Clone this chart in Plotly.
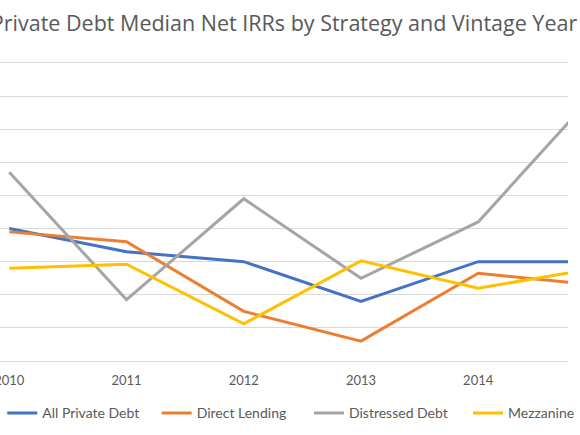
import plotly.graph_objects as go

years = [2010, 2011, 2012, 2013, 2014, 2015]
all_private_debt = [8.0, 6.6, 6.0, 3.6, 6.0, 6.0]
direct_lending = [7.8, 7.2, 3.0, 1.2, 5.3, 4.6]
distressed_debt = [11.4, 3.7, 9.8, 5.0, 8.4, 16.2]
mezzanine = [5.6, 5.85, 2.25, 6.05, 4.4, 5.6]
tick_years = [2010, 2011, 2012, 2013, 2014, 2015]
series_names = ["All Private Debt", "Direct Lending", "Distressed Debt", "Mezzanine"]

colors = ["#4472C4", "#ED7D31", "#A5A5A5", "#FFC000"]
values = [all_private_debt, direct_lending, distressed_debt, mezzanine]
legend_ids = ["legend", "legend2", "legend3", "legend4"]
legend_px = [2.3, 160, 315.5, 478]  # left edge of each legend entry (px)

W, H = 580, 435
top_px, bottom_px = 58, 366  # plot area (~5px padding beyond the 0 and 18 gridlines)
y_pad = 0.3
px_per_year = 119.7
x0 = 2010 - 9.5 / px_per_year
x1 = x0 + W / px_per_year

fig = go.Figure()
for name, vals, color, lg in zip(series_names, values, colors, legend_ids):
    fig.add_trace(go.Scatter(x=years, y=vals, name=name, mode="lines",
                             line=dict(color=color, width=3), legend=lg))

legend_y = (bottom_px - 413.3) / (bottom_px - top_px)
legend_common = dict(orientation="h", xanchor="left", y=legend_y, yanchor="middle",
                     font=dict(size=14, color="#595959", family="Lato, sans-serif"),
                     bgcolor="rgba(0,0,0,0)", borderwidth=0)
legends = {}
for lg, px in zip(legend_ids, legend_px):
    legends[lg] = dict(legend_common, x=px / W)

fig.update_layout(
    template="none",
    width=W, height=H,
    margin=dict(l=0, r=0, t=top_px, b=H - bottom_px, pad=0),
    paper_bgcolor="white", plot_bgcolor="white",
    font=dict(family="Lato, sans-serif", color="#595959", size=13),
    title=dict(text="Private Debt Median Net IRRs by Strategy and Vintage Year",
               x=0.5, xanchor="center", xref="paper",
               y=1 - 23.5 / H, yanchor="middle", yref="container",
               font=dict(size=21.5, color="#595959", family="Open Sans, sans-serif")),
    xaxis=dict(range=[x0, x1], tickvals=tick_years, ticktext=[str(t) for t in tick_years],
               showgrid=False, zeroline=False, showline=False, automargin=False,
               ticks="", ticklabelstandoff=5, ticklabeloverflow="allow",
               tickfont=dict(size=13, color="#595959", family="Lato, sans-serif")),
    yaxis=dict(range=[-y_pad, 18 + y_pad], dtick=2, showgrid=True,
               gridcolor="#D9D9D9", gridwidth=1.3,
               zeroline=False, showline=False, showticklabels=False, automargin=False),
    showlegend=True,
    **legends,
)

fig.write_html("out.html", config={"displayModeBar": False},
               post_script="document.body.style.margin='0';")
